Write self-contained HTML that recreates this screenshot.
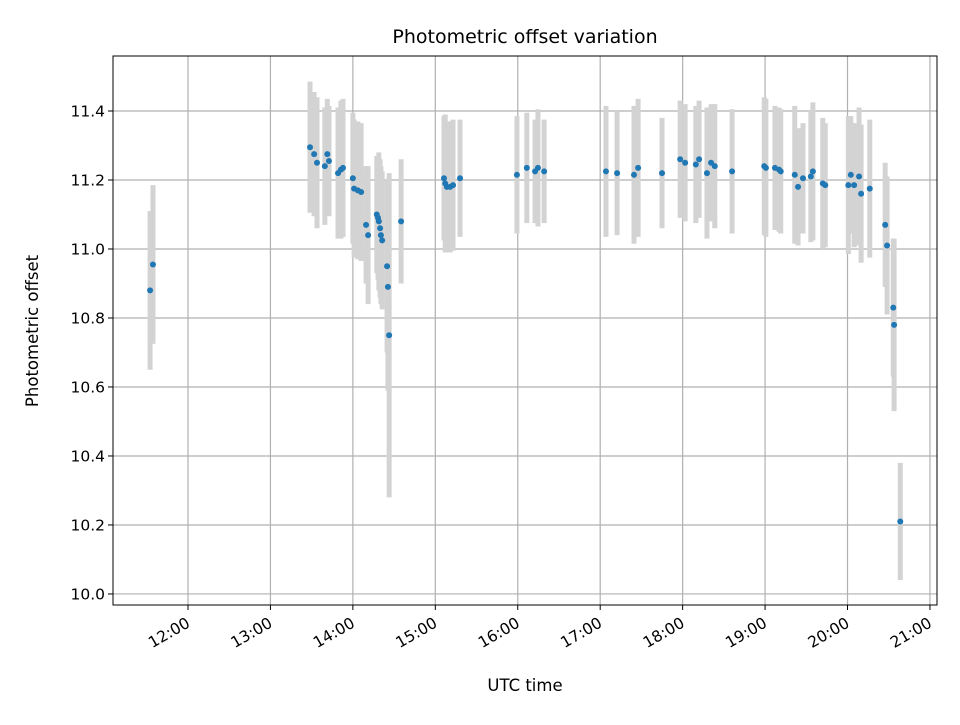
<!DOCTYPE html>
<html><head><meta charset="utf-8"><style>
body{margin:0;background:#fff}
svg text{font-family:"DejaVu Sans","Liberation Sans",sans-serif;fill:#000}
</style></head><body>
<svg id="chart" width="960" height="720" xmlns="http://www.w3.org/2000/svg">
<rect width="960" height="720" fill="#fff"/>
<g id="grid"></g>
<g id="bars"></g>
<g id="pts"></g>
<rect x="113" y="56" width="824" height="549" fill="none" stroke="#000" stroke-width="1"/>
<g id="ticks"></g>
<text x="525" y="43" text-anchor="middle" font-size="19">Photometric offset variation</text>
<text x="525" y="691" text-anchor="middle" font-size="16.5">UTC time</text>
<text x="38" y="331" text-anchor="middle" font-size="16.5" transform="rotate(-90 38 331)">Photometric offset</text>
</svg>
<script>
const times=[11.54,11.575,13.48,13.53,13.565,13.66,13.69,13.71,13.82,13.855,13.88,14.0,14.015,14.06,14.1,14.16,14.185,14.29,14.305,14.315,14.33,14.34,14.355,14.415,14.425,14.44,14.585,15.105,15.12,15.14,15.18,15.215,15.3,15.99,16.11,16.21,16.245,16.32,17.07,17.205,17.41,17.46,17.75,17.97,18.03,18.16,18.2,18.295,18.345,18.39,18.6,18.99,19.01,19.12,19.17,19.19,19.36,19.4,19.46,19.555,19.58,19.7,19.73,20.01,20.04,20.08,20.14,20.165,20.27,20.457,20.48,20.555,20.565,20.64];
const offsets=[10.88,10.955,11.295,11.275,11.25,11.24,11.275,11.255,11.22,11.23,11.235,11.205,11.175,11.17,11.165,11.07,11.04,11.1,11.09,11.08,11.06,11.04,11.025,10.95,10.89,10.75,11.08,11.205,11.19,11.18,11.18,11.185,11.205,11.215,11.235,11.225,11.235,11.225,11.225,11.22,11.215,11.235,11.22,11.26,11.25,11.245,11.26,11.22,11.25,11.24,11.225,11.24,11.235,11.235,11.23,11.225,11.215,11.18,11.205,11.21,11.225,11.19,11.185,11.185,11.215,11.185,11.21,11.16,11.175,11.07,11.01,10.83,10.78,10.21];
const errors=[0.23,0.23,0.19,0.18,0.19,0.17,0.16,0.16,0.19,0.2,0.2,0.19,0.2,0.2,0.2,0.17,0.2,0.17,0.18,0.2,0.2,0.2,0.2,0.25,0.3,0.47,0.18,0.18,0.2,0.19,0.19,0.19,0.17,0.17,0.16,0.15,0.17,0.15,0.19,0.18,0.2,0.2,0.16,0.17,0.17,0.17,0.17,0.19,0.17,0.18,0.18,0.2,0.2,0.18,0.18,0.18,0.2,0.17,0.16,0.19,0.2,0.19,0.18,0.2,0.17,0.18,0.2,0.2,0.2,0.18,0.2,0.2,0.25,0.17];
const yTicks=[10.0,10.2,10.4,10.6,10.8,11.0,11.2,11.4];
const xTickHours=[12,13,14,15,16,17,18,19,20,21];
const xTickLabels=["12:00","13:00","14:00","15:00","16:00","17:00","18:00","19:00","20:00","21:00"];
const L=113,R=937,T=56,B=605;
const xMin=11.0903,xMax=21.0855,yMin=9.968,yMax=11.5594;
const X=h=>L+(h-xMin)/(xMax-xMin)*(R-L);
const Y=v=>B-(v-yMin)/(yMax-yMin)*(B-T);
const NS="http://www.w3.org/2000/svg";
function mk(tag,attrs,parent){const e=document.createElementNS(NS,tag);for(const k in attrs)e.setAttribute(k,attrs[k]);parent.appendChild(e);return e;}
const grid=document.getElementById('grid'),ticks=document.getElementById('ticks'),bars=document.getElementById('bars'),pts=document.getElementById('pts');
yTicks.forEach(v=>{const y=Y(v);
const g=mk('line',{x1:L,x2:R,y1:y,y2:y,stroke:'#b0b0b0','stroke-width':1.2},grid);


mk('line',{x1:L-5,x2:L,y1:y,y2:y,stroke:'#000'},ticks);
const t=mk('text',{x:L-8,y:y+5.5,'text-anchor':'end','font-size':15.5},ticks);t.textContent=v.toFixed(1);


});
xTickHours.forEach((h,i)=>{const x=X(h);
const g=mk('line',{x1:x,x2:x,y1:T,y2:B,stroke:'#b0b0b0','stroke-width':1.2},grid);


mk('line',{x1:x,x2:x,y1:B,y2:B+5,stroke:'#000'},ticks);
const t=mk('text',{x:x+3,y:B+21,'text-anchor':'end','font-size':15.5,transform:`rotate(-30 ${x+3} ${B+21})`},ticks);t.textContent=xTickLabels[i];


});
times.forEach((h,i)=>{const x=X(h);
const b=mk('line',{x1:x,x2:x,y1:Y(offsets[i]+errors[i]),y2:Y(offsets[i]-errors[i]),stroke:'#d3d3d3','stroke-width':5},bars);


});
times.forEach((h,i)=>{
const c=mk('circle',{cx:X(h),cy:Y(offsets[i]),r:3,fill:'#1f77b4'},pts);


});
</script>
</body></html>
